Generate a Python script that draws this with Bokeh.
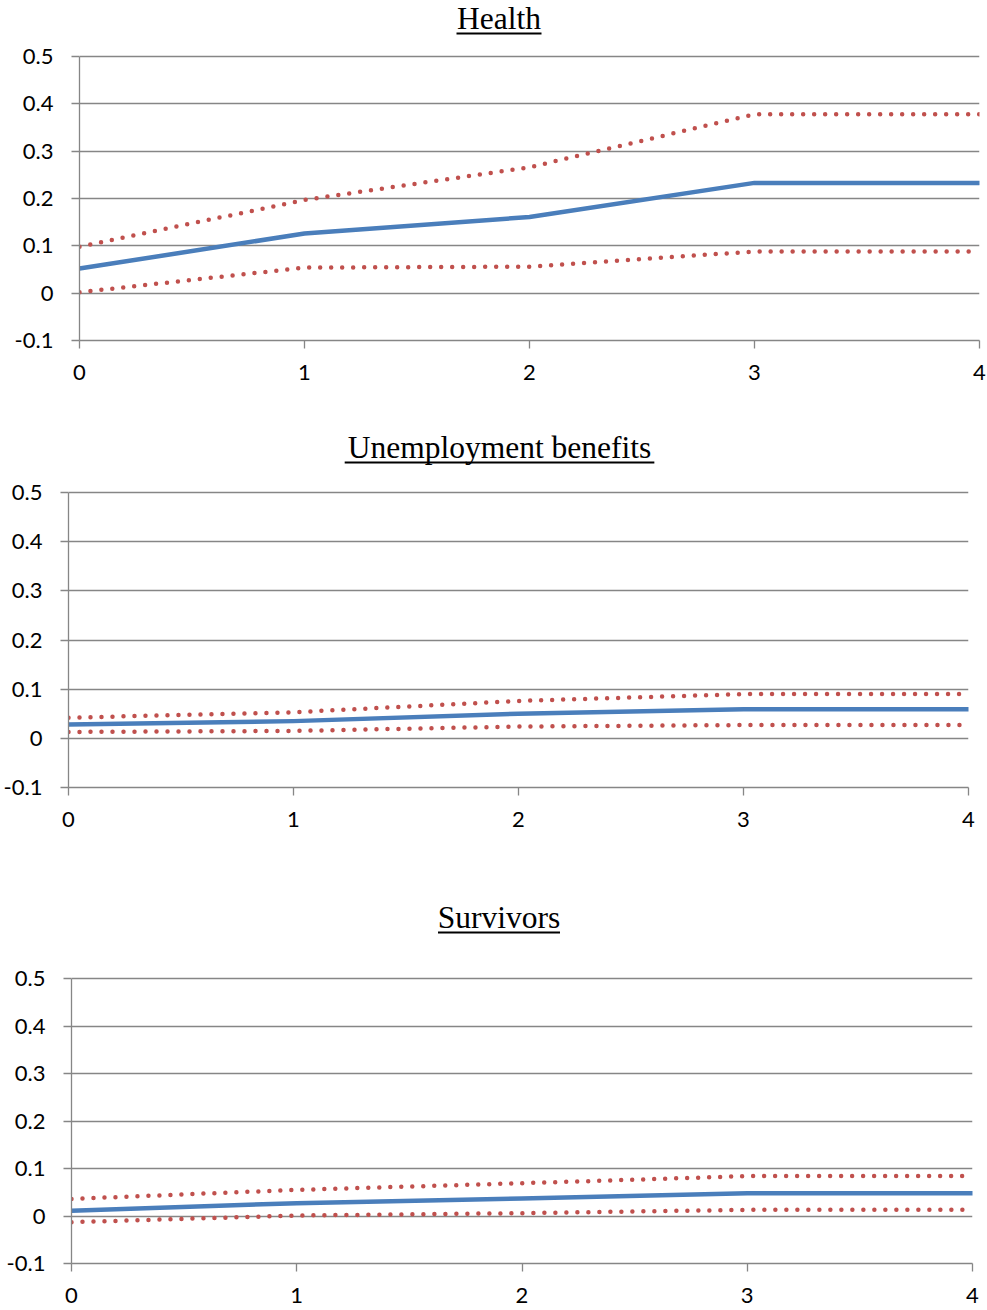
from bokeh.plotting import figure
from bokeh.models import Range1d, FixedTicker, Label, BoxAnnotation
from bokeh.embed import file_html
from bokeh.resources import INLINE

# ---------------- data ----------------
horizons = [0, 1, 2, 3, 4]

titles = ["Health", "Unemployment benefits", "Survivors"]

health_irf = [0.052, 0.126, 0.161, 0.233, 0.233]
health_upper = [0.098, 0.197, 0.266, 0.378, 0.378]
health_lower = [0.002, 0.054, 0.056, 0.088, 0.088]

unemp_irf = [0.028, 0.035, 0.050, 0.059, 0.059]
unemp_upper = [0.042, 0.053, 0.076, 0.090, 0.090]
unemp_lower = [0.013, 0.015, 0.024, 0.027, 0.027]

surv_irf = [0.011, 0.027, 0.037, 0.048, 0.048]
surv_upper = [0.036, 0.055, 0.069, 0.084, 0.084]
surv_lower = [-0.013, 0.001, 0.006, 0.013, 0.013]

x_ticks = [0, 1, 2, 3, 4]
x_tick_labels = ["0", "1", "2", "3", "4"]
y_ticks = [-0.1, 0, 0.1, 0.2, 0.3, 0.4, 0.5]
y_tick_labels = ["-0.1", "0", "0.1", "0.2", "0.3", "0.4", "0.5"]
Y_MIN, Y_MAX = -0.1, 0.5

series = [
    (health_irf, health_upper, health_lower),
    (unemp_irf, unemp_upper, unemp_lower),
    (surv_irf, surv_upper, surv_lower),
]

# ---------------- styling / layout ----------------
W = 987
BLUE = "#4a7ebb"
RED = "#c0504d"
GRAY = "#868686"
TICK_FONT = "Lato"
TITLE_FONT = "Liberation Serif"
TITLE_SHIFT = 11  # px correction for where the label's baseline is drawn

# per panel (pixels, measured from the figure's own top edge):
# h = figure height, left/right = frame borders, top05 = y of 0.5 gridline,
# bot = y of the x axis, base = title baseline, tw = title width
geom = [
    dict(h=420, left=79, right=8, top05=56, bot=340, base=29, tw=85),
    dict(h=470, left=67, right=19, top05=72, bot=367, base=38, tw=310),
    dict(h=420, left=71, right=15, top05=88, bot=373, base=38, tw=122),
]
TITLE_CX = 498.5  # x of title centres

figs = []
for title, (irf, up, lo), g in zip(titles, series, geom):
    fw = W - g["left"] - g["right"]
    ppu_y = (g["bot"] - g["top05"]) / (Y_MAX - Y_MIN)
    ppu_x = fw / 4.0
    y_top = Y_MAX + g["top05"] / ppu_y  # frame reaches the figure top
    bottom = g["h"] - g["bot"]
    p = figure(width=W, height=g["h"],
               x_range=Range1d(0, 4), y_range=Range1d(Y_MIN, y_top),
               output_backend="svg", toolbar_location=None,
               min_border_left=g["left"], min_border_right=g["right"],
               min_border_top=0, min_border_bottom=bottom,
               outline_line_color=None)
    p.xgrid.visible = False
    p.ygrid.grid_line_color = GRAY
    p.ygrid.grid_line_width = 1.3

    p.xaxis.ticker = FixedTicker(ticks=x_ticks)
    p.xaxis.major_label_overrides = dict(zip(x_ticks, x_tick_labels))
    p.yaxis.ticker = FixedTicker(ticks=y_ticks)
    p.yaxis.major_label_overrides = dict(zip(y_ticks, y_tick_labels))
    p.yaxis.bounds = (Y_MIN, Y_MAX)
    for ax in (p.xaxis, p.yaxis):
        ax.axis_line_color = GRAY
        ax.axis_line_width = 1.3
        ax.major_tick_line_color = GRAY
        ax.major_tick_line_width = 1.3
        ax.major_tick_out = 8
        ax.major_tick_in = 0
        ax.minor_tick_line_color = None
        ax.major_label_text_font = TICK_FONT
        ax.major_label_text_font_size = "22px"
        ax.major_label_text_color = "black"
    p.xaxis.major_label_standoff = 16
    p.yaxis.major_label_standoff = 18

    p.line(horizons, up, line_color=RED, line_width=4.5, line_dash="0 11", line_cap="round")
    p.line(horizons, lo, line_color=RED, line_width=4.5, line_dash="0 11", line_cap="round")
    p.line(horizons, irf, line_color=BLUE, line_width=4.5, line_cap="round", line_join="round")

    # title with underline, inside the (extended) frame
    cx = (TITLE_CX - g["left"]) / ppu_x
    y_base = Y_MAX + (g["top05"] - g["base"] + TITLE_SHIFT) / ppu_y
    p.add_layout(Label(x=cx, y=y_base, text=title, text_font=TITLE_FONT,
                       text_font_size="31.5px", text_align="center",
                       text_baseline="alphabetic", text_color="black"))
    u_c = Y_MAX + (g["top05"] - g["base"] - 4) / ppu_y
    half_w = g["tw"] / 2.0 / ppu_x
    p.add_layout(BoxAnnotation(left=cx - half_w, right=cx + half_w,
                               top=u_c + 1.0 / ppu_y, bottom=u_c - 1.0 / ppu_y,
                               fill_color="black", fill_alpha=1.0,
                               line_color=None))
    figs.append(p)

# separate roots so that the frames are not aligned with each other
open("out.html", "w").write(file_html(figs, INLINE))
